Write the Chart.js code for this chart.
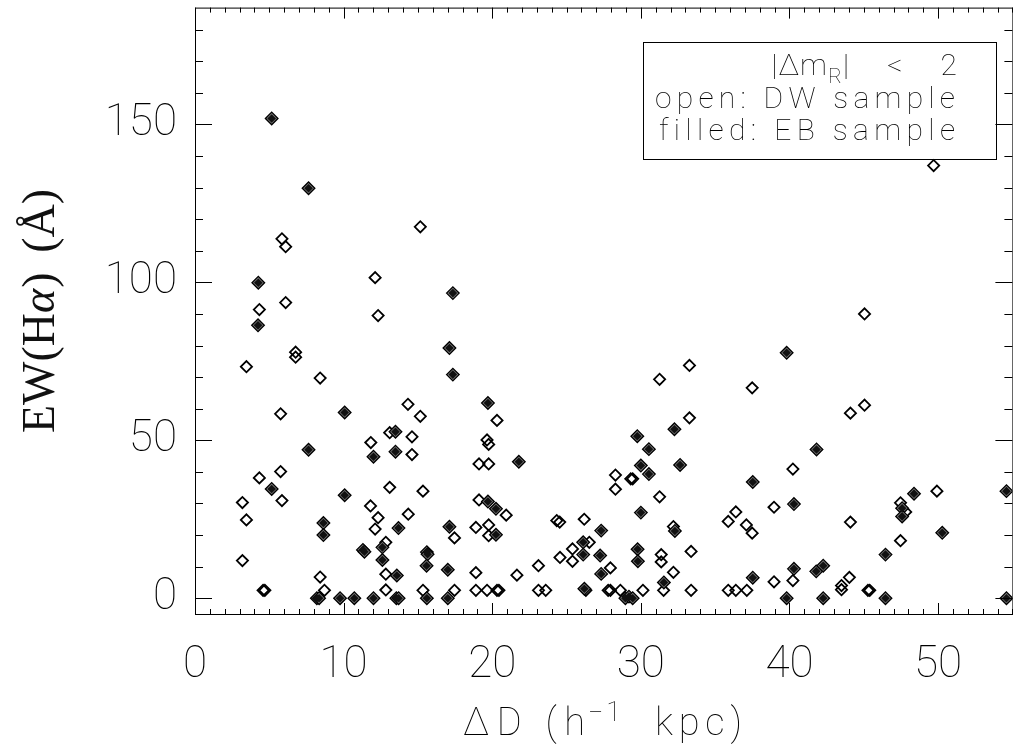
<!DOCTYPE html>
<html>
<head>
<meta charset="utf-8">
<script src="https://cdn.jsdelivr.net/npm/chart.js@4.4.0/dist/chart.umd.min.js"></script>
<style>
  html, body { margin: 0; padding: 0; background: #fff; overflow: hidden; }
  #wrap { width: 1013px; height: 754px; overflow: hidden; }
</style>
</head>
<body>
<div id="wrap"><canvas id="chart-ew" width="1020" height="754"></canvas></div>
<script>
// DW sample (open diamonds)
var dwDist = [15.16, 5.85, 6.1, 12.12, 6.1, 4.33, 12.32, 6.77, 6.77, 3.46, 8.42, 14.33, 5.76, 15.16,
    11.83, 13.1, 14.6, 14.6, 5.76, 4.33, 5.85, 3.19, 3.46, 13.1, 15.34, 11.81, 12.32, 14.35, 12.12,
    17.46, 12.84, 12.84, 3.19, 8.42, 8.71, 4.58, 4.7, 12.84, 15.34, 17.46, 18.9, 18.9, 18.9, 20.32,
    19.65, 19.76, 19.11, 19.76, 19.11, 20.94, 19.76, 19.76, 21.66, 23.11, 19.65, 20.32, 20.45, 23.11,
    23.6, 26.3, 27.8, 27.95, 28.62, 30.14, 31.53, 33.38, 35.88, 36.39, 37.13, 24.34, 24.54, 26.19,
    26.53, 25.4, 24.56, 25.4, 27.95, 28.29, 29.32, 29.45, 28.29, 31.26, 33.27, 33.27, 31.26, 32.19,
    31.37, 31.37, 32.19, 33.38, 35.88, 36.39, 37.1, 45.05, 37.49, 44.1, 45.05, 40.23, 38.96, 37.49,
    44.1, 49.92, 47.47, 47.82, 47.47, 38.96, 40.23, 44.03, 43.5, 43.5, 45.28, 45.4, 49.7];
var dwEW = [117.6, 113.8, 111.3, 101.5, 93.6, 91.4, 89.5, 77.9, 76.3, 73.3, 69.7, 61.4, 58.4, 57.6,
    49.3, 52.4, 51.1, 45.5, 40.1, 38.1, 30.9, 30.3, 24.8, 35.1, 33.9, 29.2, 25.5, 26.6, 21.9,
    19.1, 17.7, 7.6, 11.9, 6.7, 2.5, 2.5, 2.5, 2.6, 2.5, 2.5, 22.4, 8.1, 2.5, 56.3,
    50.1, 48.7, 42.5, 42.5, 31.1, 26.3, 23.2, 19.8, 7.3, 10.3, 2.5, 2.5, 2.5, 2.5,
    2.5, 2.5, 2.5, 2.5, 2.5, 2.5, 2.5, 2.5, 2.5, 2.5, 2.5, 24.6, 24.1, 25.0,
    17.7, 15.6, 12.9, 11.7, 9.6, 39.0, 37.8, 37.8, 34.5, 69.3, 73.7, 57.1, 32.1, 22.7,
    13.8, 11.5, 8.2, 14.8, 24.3, 27.3, 23.2, 90.0, 66.6, 58.6, 61.1, 40.9, 28.8, 20.6,
    24.1, 33.9, 30.2, 27.3, 18.2, 5.2, 5.6, 6.6, 4.0, 2.7, 2.5, 2.5, 137.0];

// EB sample (filled diamonds)
var ebDist = [5.16, 7.64, 4.26, 17.35, 4.24, 17.12, 17.35, 10.07, 7.64, 13.49, 12.01, 13.49, 5.16,
    10.07, 8.64, 8.64, 13.69, 17.12, 12.61, 11.3, 11.4, 12.61, 15.6, 15.65, 15.58, 13.58, 17.01,
    8.2, 8.35, 9.76, 10.72, 12.01, 13.55, 13.7, 15.6, 17.01, 19.71, 21.79, 19.71, 20.25, 20.25,
    26.2, 31.55, 27.33, 26.12, 26.12, 27.26, 27.33, 29.76, 30.54, 30.0, 30.54, 32.26, 32.64, 30.0,
    32.29, 29.78, 29.8, 28.96, 29.2, 29.45, 39.81, 41.82, 37.53, 40.3, 48.38, 47.58, 47.58, 50.28,
    46.46, 37.53, 40.3, 41.8, 42.27, 39.81, 42.27, 46.46, 54.6, 54.6];
var ebEW = [151.9, 129.8, 99.9, 96.6, 86.4, 79.2, 70.8, 58.8, 47.0, 52.7, 44.8, 46.4, 34.6,
    32.6, 23.8, 20.0, 22.2, 22.6, 16.1, 15.3, 14.7, 12.1, 14.6, 13.9, 10.3, 7.2, 9.0,
    0, 0, 0, 0, 0, 0, 0, 0, 0, 61.8, 43.2, 30.6, 28.3, 20.1,
    3.0, 5.0, 21.4, 17.7, 13.8, 13.5, 7.7, 51.3, 47.2, 42.0, 39.3, 53.5, 42.2, 27.1,
    21.3, 15.5, 11.7, 0, 0.5, 0, 77.7, 47.1, 36.8, 29.8, 33.1, 28.5, 25.9, 20.7,
    13.8, 6.5, 9.3, 8.5, 10.3, 0, 0, 0, 0, 33.9];

var xTicks = [0, 10, 20, 30, 40, 50];
var yTicks = [0, 50, 100, 150];

function pts(xs, ys) {
    return xs.map(function(x, i) { return {x: x, y: ys[i]}; });
}

var thinFont = "Roboto, 'DejaVu Sans', sans-serif";
var serifFont = "'Liberation Serif', 'DejaVu Serif', serif";

// draw text so that its ink spans a given width, by spreading the letters
function spreadText(c, txt, x, y, width, align) {
    c.letterSpacing = '0px';
    var w0 = c.measureText(txt).width;
    var sp = txt.length > 1 ? (width - w0) / (txt.length - 1) : 0;
    c.letterSpacing = sp.toFixed(2) + 'px';
    c.textAlign = 'left';
    var x0 = align === 'right' ? x - width : (align === 'center' ? x - width / 2 : x);
    c.fillText(txt, x0, y);
    c.letterSpacing = '0px';
}

var framePlugin = {
    id: 'frame',
    afterDraw: function(chart) {
        var c = chart.ctx, a = chart.chartArea;
        var xs = chart.scales.x, ys = chart.scales.y;
        c.save();
        c.strokeStyle = '#000';
        c.lineWidth = 1;
        c.strokeRect(a.left + 0.5, a.top + 0.5, a.right - a.left, a.bottom - a.top);
        c.beginPath();
        for (var v = 0; v <= 55; v++) {
            var px = Math.round(xs.getPixelForValue(v)) + 0.5;
            var len = (v % 10 === 0) ? 11 : 5;
            c.moveTo(px, a.bottom); c.lineTo(px, a.bottom - len);
            c.moveTo(px, a.top); c.lineTo(px, a.top + len);
        }
        for (var w = 0; w <= 180; w += 10) {
            var py = Math.round(ys.getPixelForValue(w)) + 0.5;
            var l2 = (w % 50 === 0) ? 17 : 8;
            c.moveTo(a.left, py); c.lineTo(a.left + l2, py);
            c.moveTo(a.right, py); c.lineTo(a.right - l2, py);
        }
        c.stroke();

        // legend box
        c.strokeRect(643.5, 42.5, 353, 117);
        c.fillStyle = '#000';
        c.textBaseline = 'alphabetic';
        c.font = "100 30px " + thinFont;
        spreadText(c, 'open: DW sample', 955, 108, 300, 'right');
        spreadText(c, 'filled: EB sample', 955, 140, 296, 'right');
        // |Δm_R| < 2
        spreadText(c, '| < 2', 957, 75, 114, 'right');
        c.textAlign = 'right';
        c.letterSpacing = '1px';
        c.fillText('|\u0394m', 828, 75);
        c.letterSpacing = '0px';
        c.font = "100 21px " + thinFont;
        c.textAlign = 'left';
        c.fillText('R', 828, 83);

        // x title
        c.font = "100 38px " + thinFont;
        spreadText(c, '\u0394D (h', 463, 735, 122, 'left');
        c.font = "100 27px " + thinFont;
        spreadText(c, '\u22121', 588, 721, 33, 'left');
        c.font = "100 38px " + thinFont;
        spreadText(c, 'kpc)', 655, 735, 87, 'left');

        // y title, read bottom to top
        c.translate(42, 311);
        c.rotate(-Math.PI / 2);
        c.fillStyle = '#111';
        c.textBaseline = 'middle';
        c.textAlign = 'left';
        c.font = "46px " + serifFont;
        var x0 = -122;
        c.fillText('EW(H', x0, 0);
        x0 += c.measureText('EW(H').width;
        c.font = "italic 46px " + serifFont;
        c.fillText('\u03B1', x0, 0);
        x0 += c.measureText('\u03B1').width + 1;
        c.font = "46px " + serifFont;
        c.fillText(')', x0, 0);
        c.textAlign = 'right';
        c.fillText('(\u00C5)', 122, 0);
        c.restore();
    }
};

var ctx = document.getElementById('chart-ew');
var ewChart = new Chart(ctx, {
    type: 'scatter',
    data: {
        datasets: [{
            label: 'EB core',
            data: pts(ebDist, ebEW),
            pointStyle: 'rectRot',
            pointRadius: 4.3,
            pointBackgroundColor: '#111',
            pointBorderWidth: 0
        }, {
            label: 'EB sample',
            data: pts(ebDist, ebEW),
            pointStyle: 'rectRot',
            pointRadius: 6.3,
            pointBackgroundColor: '#777',
            pointBorderColor: '#000',
            pointBorderWidth: 1.3
        }, {
            label: 'DW sample',
            data: pts(dwDist, dwEW),
            pointStyle: 'rectRot',
            pointRadius: 5.6,
            pointBackgroundColor: 'rgba(255,255,255,0)',
            pointBorderColor: '#000',
            pointBorderWidth: 1.8
        }]
    },
    options: {
        responsive: false,
        animation: false,
        events: [],
        layout: { padding: { top: 7, right: 3, left: 0, bottom: 0 } },
        plugins: { legend: { display: false }, tooltip: { enabled: false } },
        scales: {
            x: {
                type: 'linear', min: 0, max: 55,
                grid: { display: false, drawTicks: false },
                border: { display: false },
                afterFit: function(s) { s.height = 140; s.paddingLeft = 0; s.paddingRight = 0; },
                afterBuildTicks: function(s) { s.ticks = xTicks.map(function(v) { return {value: v}; }); },
                ticks: { padding: 26, color: '#000', maxRotation: 0,
                    font: { family: thinFont, size: 44, weight: 100 } }
            },
            y: {
                type: 'linear', min: -5, max: 187,
                grid: { display: false, drawTicks: false },
                border: { display: false },
                afterFit: function(s) { s.width = 195; s.paddingTop = 0; s.paddingBottom = 0; },
                afterBuildTicks: function(s) { s.ticks = yTicks.map(function(v) { return {value: v}; }); },
                ticks: { padding: 18, color: '#000',
                    font: { family: thinFont, size: 44, weight: 100 } }
            }
        }
    },
    plugins: [framePlugin]
});
</script>
</body>
</html>
